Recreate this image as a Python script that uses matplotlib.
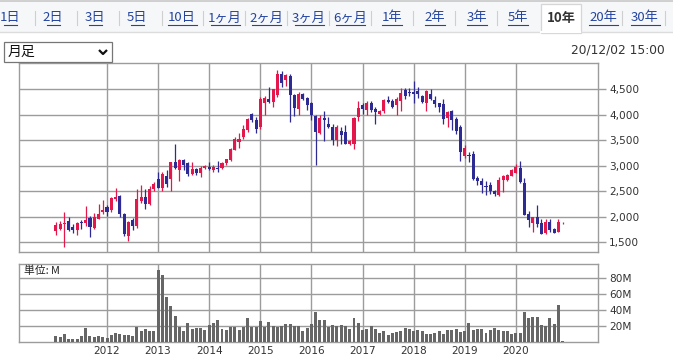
import matplotlib
matplotlib.use("Agg")
import matplotlib.pyplot as plt
from matplotlib.lines import Line2D
from matplotlib.patches import Rectangle
import numpy as np

# ---------------- data ----------------
opens = [1716, 1762, 1847, 1912, 1801, 1729, 1892, 1866, 1964, 1781,
         1958, 2089, 2187, 2128, 2350, 2402, 2056, 1618, 1932, 1814,
         2304, 2389, 2252, 2546, 2735, 2565, 2801, 2735, 3075, 2912,
         3115, 3043, 2827, 2925, 2860, 2958, 2971, 2912, 2958, 2958,
         3043, 3108, 3317, 3468, 3566, 3697, 4020, 3890, 3758, 4235,
         4314, 4248, 4392, 4791, 4673, 4758, 4380, 4118, 4400, 4327,
         4235, 3974, 3647, 3935, 3823, 3760, 3500, 3690, 3660, 3430,
         3430, 3955, 4200, 4085, 4235, 4118, 4020, 4065, 4294, 4260,
         4183, 4260, 4480, 4445, 4445, 4460, 4360, 4235, 4410, 4294,
         4230, 4215, 3935, 4065, 3920, 3760, 3190, 3205, 3220, 2760,
         2700, 2600, 2627, 2500, 2430, 2710, 2710, 2800, 2860, 2955,
         2665, 2060, 1880, 1990, 1880, 1685, 1895, 1760, 1700, 1870]
highs = [1892, 1912, 2095, 1997, 1847, 1892, 1932, 2206, 2010, 2075,
         2252, 2324, 2219, 2376, 2566, 2416, 2075, 1912, 1977, 2546,
         2612, 2546, 2599, 2680, 2880, 2880, 2905, 3075, 3435, 3128,
         3140, 3075, 3075, 2958, 2997, 3010, 3075, 3010, 3088, 3075,
         3140, 3337, 3566, 3651, 3795, 3939, 4040, 3955, 4340, 4360,
         4550, 4510, 4870, 4850, 4800, 4800, 4410, 4440, 4430, 4350,
         4250, 3990, 4000, 4080, 3950, 3810, 3790, 3750, 3790, 3500,
         3960, 4270, 4230, 4260, 4260, 4150, 4100, 4310, 4370, 4300,
         4350, 4520, 4520, 4530, 4660, 4540, 4380, 4480, 4500, 4360,
         4240, 4300, 4070, 4100, 3950, 3790, 3400, 3270, 3280, 2790,
         2760, 2700, 2680, 2530, 2780, 2820, 2840, 2930, 3040, 3090,
         2750, 2100, 2000, 2230, 1960, 1950, 1960, 1780, 1960, 1900]
lows = [1631, 1735, 1408, 1716, 1683, 1631, 1749, 1814, 1598, 1749,
        1945, 2043, 2010, 2089, 2304, 1997, 1618, 1520, 1735, 1768,
        2271, 2141, 2232, 2500, 2552, 2500, 2585, 2500, 2932, 2690,
        2912, 2801, 2814, 2814, 2775, 2932, 2912, 2880, 2880, 2932,
        3010, 3088, 3304, 3337, 3533, 3664, 3860, 3640, 3710, 4000,
        4230, 4150, 4350, 4540, 4560, 3856, 3980, 4000, 4280, 4100,
        3900, 3020, 3620, 3480, 3740, 3400, 3390, 3420, 3420, 3400,
        3330, 3880, 4010, 4000, 4050, 3810, 4000, 4040, 4230, 4130,
        4000, 4070, 4300, 4360, 4230, 4330, 4230, 4080, 4290, 4150,
        4050, 3820, 3760, 3700, 3630, 3100, 3150, 3080, 2720, 2620,
        2470, 2430, 2440, 2400, 2410, 2480, 2690, 2790, 2850, 2650,
        2030, 1800, 1700, 1790, 1660, 1660, 1700, 1670, 1690, 1860]
closes = [1827, 1847, 1880, 1729, 1729, 1866, 1866, 1925, 1801, 1997,
          2043, 2128, 2095, 2357, 2389, 2043, 1650, 1899, 1814, 2337,
          2389, 2252, 2546, 2631, 2565, 2827, 2631, 3062, 2945, 3115,
          3010, 2827, 2925, 2847, 2958, 2990, 2932, 2971, 2932, 3056,
          3128, 3324, 3520, 3533, 3716, 3913, 3890, 3725, 4314, 4327,
          4248, 4497, 4804, 4628, 4772, 4392, 4131, 4412, 4314, 4196,
          4000, 3660, 3935, 3890, 3758, 3500, 3760, 3608, 3430, 3483,
          3935, 4130, 4118, 4235, 4085, 4052, 4065, 4294, 4250, 4150,
          4300, 4430, 4360, 4430, 4410, 4400, 4250, 4460, 4315, 4215,
          4150, 3920, 4050, 3890, 3690, 3270, 3345, 3190, 2730, 2705,
          2627, 2575, 2500, 2445, 2710, 2790, 2810, 2910, 2975, 2680,
          2040, 1930, 1990, 1860, 1665, 1895, 1730, 1685, 1895, 1880]
volumes_m = [7.8, 6.5, 10.2, 4, 4, 4, 7.8, 17.5, 7.8, 7,
             8.2, 6, 5, 8.6, 11, 10.2, 9, 9, 8.2, 19.2,
             13.9, 16.3, 14.3, 13.9, 89.8, 83.3, 55.5, 44.5, 32.2, 19.2,
             13.9, 23.3, 16.3, 17.5, 17.5, 14.7, 21.2, 23.7, 27.3, 16.3,
             14.7, 19.2, 19.2, 14.7, 19.2, 29.8, 19.2, 19.2, 26.1, 19.2,
             24.9, 20, 19.2, 20, 22.4, 22.4, 20, 20, 13.9, 17.5,
             22.4, 37.1, 27.3, 27.3, 19.2, 21.2, 20, 21.2, 20, 16.3,
             29.8, 23.7, 15.5, 16.3, 20, 16.3, 11.4, 13.9, 9, 11.4,
             12.7, 13.9, 17.5, 16.3, 13.9, 14.7, 13.9, 10.2, 10.2, 11.4,
             13.9, 10.2, 15.1, 14.7, 16.3, 12.7, 13.9, 23.7, 15.1, 16.3,
             16.3, 11.4, 15.1, 17.5, 15.1, 13.9, 13.9, 10.2, 11.4, 11.4,
             37.1, 29.8, 31, 31, 21.2, 20, 29.8, 22.4, 45.7, 1.6]
first_year = 2011
year_labels = ["2012", "2013", "2014", "2015", "2016", "2017", "2018", "2019", "2020"]
price_ticks = [1500, 2000, 2500, 3000, 3500, 4000, 4500]
volume_ticks = [20, 40, 60, 80]
tab_labels = ["1日", "2日", "3日", "5日", "10日", "1ヶ月", "2ヶ月", "3ヶ月", "6ヶ月",
              "1年", "2年", "3年", "5年", "10年", "20年", "30年"]
selected_tab = "10年"
period_label = "月足"
timestamp = "20/12/02 15:00"
unit_label = "単位: M"

# ---------------- styling ----------------
W, H = 673, 356
RED = "#E3174B"
BLUE = "#2D2A94"
GRID = "#9c9c9c"
TXT = "#333333"
LINK = "#2444a0"
CJK = ["Noto Sans CJK JP", "DejaVu Sans"]

fig = plt.figure(figsize=(W / 100, H / 100), dpi=100)
fig.patch.set_facecolor("white")


def fx(px):
    return px / W


def fy(py):
    return 1 - py / H


def ax_rect(l, t, r, b):
    return [fx(l), fy(b), fx(r) - fx(l), (b - t) / H]


# ---------------- tab bar ----------------
fig.patches.append(Rectangle((0, fy(32)), 1, fy(1) - fy(32), transform=fig.transFigure,
                             facecolor="#f6f7f9", edgecolor="none", zorder=0))
fig.lines.append(Line2D([0, 1], [fy(1), fy(1)], transform=fig.transFigure, color="#c8c8c8", lw=1.2))
fig.lines.append(Line2D([0, 1], [fy(32), fy(32)], transform=fig.transFigure, color="#dcdcdc", lw=1.0))

tab_centers = [10, 53, 95, 137, 182, 225, 266, 309, 350, 392, 435, 477, 518, 561, 603, 645]
tab_seps = [35, 77, 119, 162, 203, 245, 287, 329, 371, 413, 455, 497, 622, 665]
for sx in tab_seps:
    fig.lines.append(Line2D([fx(sx), fx(sx)], [fy(11), fy(25)], transform=fig.transFigure,
                            color="#cfcfcf", lw=0.8))
# selected tab box
fig.patches.append(Rectangle((fx(540.5), fy(32.5)), fx(580.5) - fx(540.5), fy(4) - fy(32.5),
                             transform=fig.transFigure, facecolor="white", edgecolor="#d6d6d6",
                             lw=0.9, zorder=1))
fig.lines.append(Line2D([fx(541), fx(580)], [fy(32), fy(32)], transform=fig.transFigure,
                        color="white", lw=1.5, zorder=2))
for lab, cx in zip(tab_labels, tab_centers):
    if lab == selected_tab:
        fig.text(fx(cx), fy(18), lab, ha="center", va="center", fontsize=9.5,
                 fontweight="bold", color=TXT, family=CJK, zorder=3)
    else:
        t = fig.text(fx(cx), fy(18), lab, ha="center", va="center", fontsize=9.5,
                     color=LINK, family=CJK, zorder=3)
        n = len(lab)
        wpx = {2: 13, 3: 29, 4: 33}.get(n, 14)
        if lab in ("1日", "2日", "3日", "5日", "1年", "2年", "3年", "5年"):
            wpx = 20 if "年" in lab else 13
        if lab in ("10日",):
            wpx = 29
        fig.lines.append(Line2D([fx(cx - wpx / 2), fx(cx + wpx / 2)], [fy(24.5), fy(24.5)],
                                transform=fig.transFigure, color=LINK, lw=0.8))

# ---------------- dropdown + timestamp ----------------
fig.patches.append(Rectangle((fx(3.5), fy(62)), fx(112.5) - fx(3.5), fy(42) - fy(62),
                             transform=fig.transFigure, facecolor="white", edgecolor="#767676",
                             lw=0.9, zorder=2))
fig.text(fx(8), fy(52), period_label, ha="left", va="center", fontsize=10, color="#111111",
         family=CJK, zorder=3)
fig.lines.append(Line2D([fx(99), fx(103), fx(107)], [fy(50), fy(54), fy(50)],
                        transform=fig.transFigure, color="#111111", lw=1.6, zorder=3,
                        solid_capstyle="butt"))
fig.text(fx(665), fy(50), timestamp, ha="right", va="center", fontsize=8.8, color=TXT)

# ---------------- axes ----------------
n = len(opens)
x = np.arange(n)
ax = fig.add_axes(ax_rect(19, 62.7, 598, 252))
axv = fig.add_axes(ax_rect(19, 264.3, 598, 342.3))

o = np.array(opens, float)
h = np.array(highs, float)
l = np.array(lows, float)
c = np.array(closes, float)
up = c >= o
cols = np.where(up, RED, BLUE)

ax.vlines(x, l, h, colors=cols, lw=0.9, zorder=3)
body_b = np.minimum(o, c)
body_h = np.maximum(np.abs(c - o), 12)
ax.bar(x, body_h, bottom=body_b, width=0.72, color=cols, edgecolor="none", zorder=4)

axv.bar(x, volumes_m, width=0.7, color="#666666", edgecolor="none", zorder=3)

year_pos = [(int(y) - first_year) * 12 for y in year_labels]
for a in (ax, axv):
    a.set_xlim(-8.67, 127.3)
    a.set_xticks(year_pos)
    a.grid(True, color=GRID, lw=1.0, zorder=0)
    for s in a.spines.values():
        s.set_color(GRID)
        s.set_linewidth(1.0)
    a.yaxis.tick_right()
    a.tick_params(axis="y", length=5.5, width=1.0, color=GRID, labelcolor=TXT,
                  labelsize=7.6, pad=2.5)
    a.tick_params(axis="x", length=0, labelcolor=TXT, labelsize=7.6, pad=3)
    a.set_axisbelow(True)

ax.set_ylim(1304, 5022)
ax.set_yticks(price_ticks)
ax.set_yticklabels([f"{v:,}" for v in price_ticks])
ax.set_xticklabels([])

axv.set_ylim(0, 96.3)
axv.set_yticks(volume_ticks)
axv.set_yticklabels([f"{v}M" for v in volume_ticks])
axv.set_xticklabels(year_labels)
axv.text(fx(24) , fy(270.5), unit_label, transform=fig.transFigure, ha="left", va="center",
         fontsize=7.8, color="#222222", family=CJK, zorder=5)

fig.savefig("out.png", dpi=100, facecolor="white")
